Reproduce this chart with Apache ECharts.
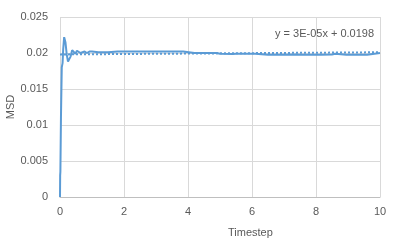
<!DOCTYPE html>
<html>
<head>
<meta charset="utf-8">
<script src="https://cdn.jsdelivr.net/npm/echarts@6/dist/echarts.min.js"></script>
<style>html,body{margin:0;padding:0;background:#fff;}#c{width:400px;height:247px;}</style>
</head>
<body>
<div id="c"></div>
<script>
var timestep = [0,0.005,0.012,0.02,0.03,0.045,0.055,0.08,0.1,0.13,0.17,0.21,0.25,0.29,0.33,0.38,0.43,0.48,0.53,0.58,0.64,0.70,0.77,0.84,0.92,1.0,1.2,1.5,1.8,2.1,2.5,3.0,3.5,3.85,3.9,4.2,4.6,4.9,5.0,5.4,5.5,6.0,6.03,6.1,6.5,6.95,7.0,7.4,7.5,8.15,8.2,8.5,8.6,8.95,9.6,9.65,10];
var msd = [0,0.0030,0.0035,0.0037,0.0110,0.0112,0.0180,0.0186,0.0205,0.0222,0.0215,0.0198,0.0188,0.0187,0.0195,0.0204,0.0203,0.0199,0.0203,0.0203,0.0200,0.0201,0.0202,0.0200,0.0202,0.0202,0.0201,0.0201,0.0202,0.0202,0.0202,0.0202,0.0202,0.0202,0.0200,0.0200,0.0200,0.02,0.0199,0.01985,0.0199,0.0199,0.01975,0.0199,0.01975,0.01975,0.0199,0.01978,0.01975,0.01975,0.0199,0.01978,0.0199,0.01975,0.01975,0.0199,0.0200];
var trendSlope = 3e-5;
var trendIntercept = 0.0198;
var trendLabel = 'y = 3E-05x + 0.0198';
var xTicks = [0,2,4,6,8,10];
var yTicks = [0,0.005,0.01,0.015,0.02,0.025];

var series1 = timestep.map(function(t,i){return [t,msd[i]];});
var trend = [xTicks[0], xTicks[xTicks.length-1]].map(function(t){return [t, trendSlope*t+trendIntercept];});
var font = 'Liberation Sans';
var chart = echarts.init(document.getElementById('c'));
chart.setOption({
  animation:false,
  grid:{left:60,right:20,top:17,bottom:50,containLabel:false,outerBoundsMode:'none'},
  xAxis:{type:'value',min:0,max:10,interval:2,
    axisLine:{lineStyle:{color:'#bfbfbf'}},axisTick:{show:false},
    axisLabel:{color:'#595959',fontFamily:font,fontSize:11,margin:9},
    splitLine:{lineStyle:{color:'#d9d9d9'}}},
  yAxis:{type:'value',min:0,max:0.025,interval:0.005,
    axisLine:{show:false},axisTick:{show:false},
    axisLabel:{color:'#595959',fontFamily:font,fontSize:11,margin:12},
    splitLine:{lineStyle:{color:'#d9d9d9'}}},
  graphic:[
    {type:'text',x:11,y:107,rotation:Math.PI/2,style:{text:'MSD',fill:'#595959',font:'11px '+font,textAlign:'center',textVerticalAlign:'middle'}},
    {type:'text',left:228,top:227,style:{text:'Timestep',fill:'#595959',font:'11px '+font}},
    {type:'text',left:275,top:28,style:{text:trendLabel,fill:'#595959',font:'11px '+font}}
  ],
  series:[
    {type:'line',data:trend,showSymbol:false,lineStyle:{color:'#5b9bd5',width:2,type:[2,2]},z:2},
    {type:'line',data:series1,showSymbol:false,lineStyle:{color:'#5b9bd5',width:2},z:3}
  ]
});
</script>
</body>
</html>
